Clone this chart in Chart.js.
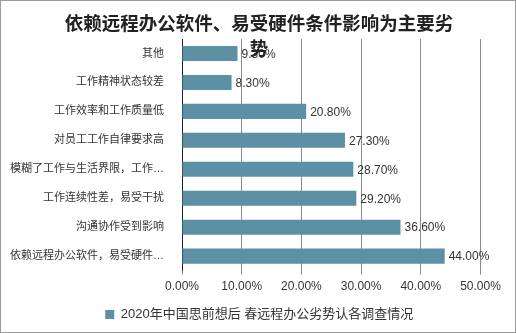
<!DOCTYPE html>
<html>
<head>
<meta charset="utf-8">
<script src="https://cdn.jsdelivr.net/npm/chart.js@4"></script>
<style>
  html, body { margin: 0; padding: 0; background: #fff; }
  #wrap { width: 516px; height: 333px; position: relative; }
</style>
</head>
<body>
<div id="wrap"><canvas id="chart" width="516" height="333"></canvas></div>
<script>
const titleLines = ["依赖远程办公软件、易受硬件条件影响为主要劣", "势"];
const seriesName = "2020年中国思前想后 春远程办公劣势认各调查情况";
const categories = [
  "其他",
  "工作精神状态较差",
  "工作效率和工作质量低",
  "对员工工作自律要求高",
  "模糊了工作与生活界限，工作…",
  "工作连续性差，易受干扰",
  "沟通协作受到影响",
  "依赖远程办公软件，易受硬件…"
];
const values = [9.3, 8.3, 20.8, 27.3, 28.7, 29.2, 36.6, 44.0];
const xTicks = [0, 10, 20, 30, 40, 50];

const FONT = "'Liberation Sans', 'Noto Sans CJK SC', sans-serif";
const barColor = "#5b90a5";

// value labels at the end of each bar
const valueLabels = {
  id: "valueLabels",
  afterDatasetsDraw(chart) {
    const ctx = chart.ctx;
    const meta = chart.getDatasetMeta(0);
    ctx.save();
    ctx.font = "12px " + FONT;
    ctx.fillStyle = "#333";
    ctx.textBaseline = "middle";
    ctx.textAlign = "left";
    meta.data.forEach((bar, i) => {
      ctx.fillText(values[i].toFixed(2) + "%", bar.x + 4, bar.y + 1);
    });
    ctx.restore();
  }
};

// legend sits a bit right of the canvas centre in the original
const shiftLegend = {
  id: "shiftLegend",
  afterLayout(chart) {
    const lg = chart.legend;
    if (lg) { lg.left += 19; lg.right += 19; }
  }
};

// title drawn on top, overlapping the plot like the original
const overlayTitle = {
  id: "overlayTitle",
  afterDraw(chart) {
    const ctx = chart.ctx;
    ctx.save();
    ctx.font = "bold 18.5px 'Noto Sans CJK SC', sans-serif";
    ctx.fillStyle = "#222";
    ctx.textAlign = "center";
    ctx.textBaseline = "middle";
    ctx.fillText(titleLines[0], 259, 23);
    ctx.fillText(titleLines[1], 259, 48);
    // outer frame
    ctx.strokeStyle = "#9a9a9a";
    ctx.lineWidth = 1;
    ctx.strokeRect(0.5, 0.5, chart.width - 1, chart.height - 1);
    ctx.restore();
  }
};

new Chart(document.getElementById("chart"), {
  type: "bar",
  data: {
    labels: categories,
    datasets: [{
      label: seriesName,
      data: values,
      backgroundColor: barColor,
      borderWidth: 0,
      barPercentage: 0.52,
      categoryPercentage: 1
    }]
  },
  options: {
    indexAxis: "y",
    responsive: false,
    animation: false,
    layout: { padding: { top: 39, right: 35.5, bottom: 2, left: 0 } },
    scales: {
      x: {
        min: 0,
        max: 50,
        afterBuildTicks(scale) { scale.ticks = xTicks.map(v => ({ value: v })); },
        ticks: {
          callback: v => v.toFixed(2) + "%",
          color: "#333",
          font: { family: FONT, size: 12 },
          padding: 5,
          maxRotation: 0
        },
        grid: { color: "#8a8a8a", lineWidth: 1, tickLength: 4, drawTicks: true },
        border: { display: false }
      },
      y: {
        afterFit(scale) { scale.width = 182; },
        ticks: {
          color: "#333",
          font: { family: FONT, size: 11 },
          padding: 10
        },
        grid: { display: false },
        border: { display: true, color: "#222", width: 1 }
      }
    },
    plugins: {
      title: { display: false },
      tooltip: { enabled: false },
      legend: {
        position: "bottom",
        labels: {
          color: "#333",
          font: { family: FONT, size: 13 },
          boxWidth: 9,
          boxHeight: 9,
          padding: 9
        }
      }
    }
  },
  plugins: [valueLabels, shiftLegend, overlayTitle]
});
</script>
</body>
</html>
